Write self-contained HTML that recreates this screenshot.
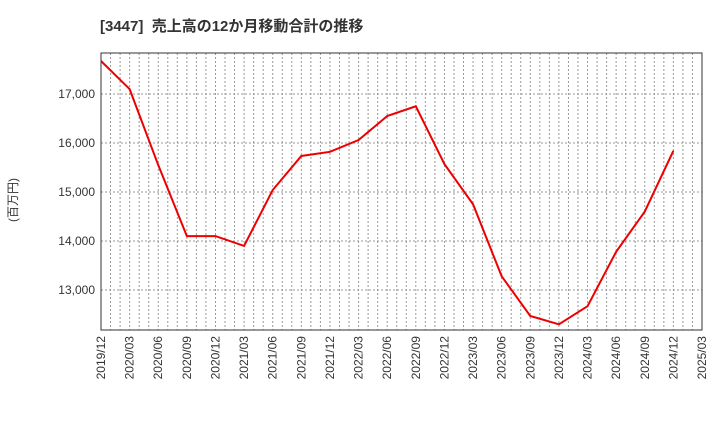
<!DOCTYPE html>
<html><head><meta charset="utf-8"><style>
body{margin:0;background:#fff;font-family:"Liberation Sans","Noto Sans CJK JP",sans-serif;}
</style></head><body>
<svg width="720" height="440" xmlns="http://www.w3.org/2000/svg">
<text x="100" y="31" font-size="15" font-weight="bold" fill="#333">[3447]&#160;&#160;売上高の12か月移動合計の推移</text>
<text transform="translate(17,200) rotate(-90)" font-size="12" fill="#333" text-anchor="middle">(百万円)</text>
<g id="grid"></g><g id="axes"></g>
<path id="line" fill="none" stroke="#e00" stroke-width="2"/>
</svg>
<script>
const xLabels=["2019/12","2020/03","2020/06","2020/09","2020/12","2021/03","2021/06","2021/09","2021/12","2022/03","2022/06","2022/09","2022/12","2023/03","2023/06","2023/09","2023/12","2024/03","2024/06","2024/09","2024/12","2025/03"];
const values=[17673,17100,15550,14100,14100,13900,15040,15735,15820,16060,16550,16750,15570,14750,13280,12470,12300,12670,13780,14600,15840];
const yTicks=[13000,14000,15000,16000,17000];
const L=101,R=702,T=53,B=330;
const xs=i=>L+i*(R-L)/(xLabels.length-1);
const ys=v=>94+(17000-v)*196/4000;
const NS="http://www.w3.org/2000/svg";
const g=document.getElementById('grid'),a=document.getElementById('axes');
function mk(tag,at,p){const e=document.createElementNS(NS,tag);for(const k in at)e.setAttribute(k,at[k]);p.appendChild(e);return e;}
const months=(xLabels.length-1)*3;
for(let m=1;m<months;m++){const x=L+m*(R-L)/months;
const e=mk('line',{x1:x,x2:x,y1:T,y2:B,stroke:'#999','stroke-dasharray':'2,2','stroke-width':1},g);

}
yTicks.forEach(v=>{const y=ys(v);
const e=mk('line',{x1:L,x2:R,y1:y,y2:y,stroke:'#999','stroke-dasharray':'2,2','stroke-width':1},g);


const t=mk('text',{x:L-6,y:y+4,'font-size':12,fill:'#333','text-anchor':'end'},a);t.textContent=v.toLocaleString('en-US');

});
xLabels.forEach((s,i)=>{const x=xs(i);
const t=mk('text',{transform:`translate(${x+4},336) rotate(-90)`,'font-size':12,fill:'#333','text-anchor':'end'},a);t.textContent=s;

});
const fr=mk('rect',{x:L,y:T,width:R-L,height:B-T,fill:'none',stroke:'#333','stroke-width':1},a);


document.getElementById('line').setAttribute('d',values.map((v,i)=>(i?'L':'M')+xs(i)+','+ys(v)).join(''));
</script>
</body></html>
